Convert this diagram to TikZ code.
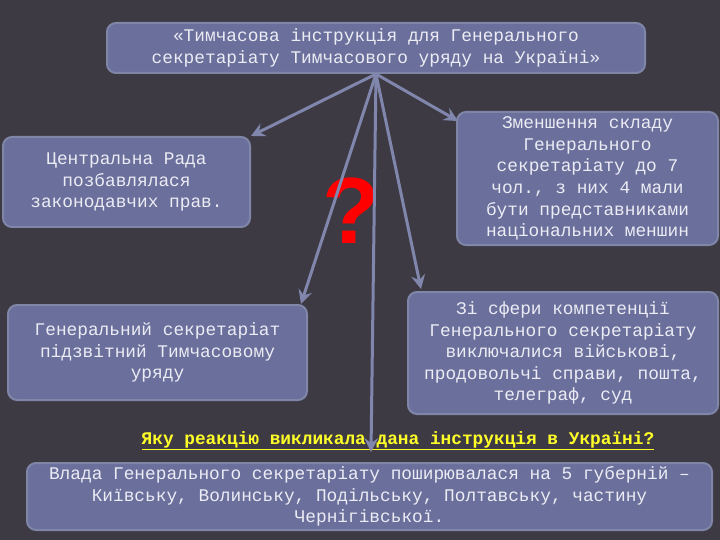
\documentclass[tikz,border=0pt]{standalone}
\usepackage{fontspec}
\setmainfont{Liberation Serif}
\setsansfont{Liberation Sans}
\setmonofont{Liberation Mono}
\usetikzlibrary{calc, arrows.meta}

\definecolor{slidebg}{RGB}{61,58,68}
\definecolor{boxfill}{RGB}{106,111,156}
\definecolor{boxline}{RGB}{128,134,168}
\definecolor{arrowcol}{RGB}{128,134,172}
\definecolor{boxtext}{RGB}{236,236,244}
\definecolor{asktext}{RGB}{255,255,40}

\begin{document}
\begin{tikzpicture}[x=1pt, y=-1pt]
    \tikzstyle{infobox} = [rectangle, rounded corners=9pt, fill=boxfill,
        draw=boxline, line width=2pt, text=boxtext, align=center,
        font=\ttfamily\fontsize{17.8}{21.6}\selectfont, inner sep=0pt]
    \tikzstyle{link} = [line width=3pt, draw=arrowcol,
        -{Stealth[length=14pt, width=14pt, inset=5pt]}]

    \useasboundingbox (0, 0) rectangle (720, 540);
    \fill[slidebg] (0, 0) rectangle (720, 540);

    % Boxes ---------------------------------------------
    \node (top) at (376, 48) [infobox, minimum width=538, minimum height=50]
        {«Тимчасова інструкція для Генерального\\секретаріату Тимчасового уряду на Україні»};
    \node (rada) at (126.5, 182) [infobox, minimum width=247, minimum height=90]
        {Центральна Рада\\позбавлялася\\законодавчих прав.};
    \node (sklad) at (587.5, 178.5) [infobox, minimum width=261, minimum height=133]
        {Зменшення складу\\Генерального\\секретаріату до 7\\чол., з них 4 мали\\бути представниками\\національних меншин};
    \node (pidzvit) at (157.5, 352.5) [infobox, minimum width=299, minimum height=95]
        {Генеральний секретаріат\\підзвітний Тимчасовому\\уряду};
    \node (sfery) at (563, 353) [infobox, minimum width=310, minimum height=122]
        {Зі сфери компетенції\\Генерального секретаріату\\виключалися військові,\\продовольчі справи, пошта,\\телеграф, суд};
    \node (vlada) at (369.5, 496.5) [infobox, minimum width=685, minimum height=67]
        {Влада Генерального секретаріату поширювалася на 5 губерній –\\Київську, Волинську, Подільську, Полтавську, частину\\Чернігівської.};
    % ---------------------------------------------------

    % Question ------------------------------------------
    \node (ask) at (398, 441) [text=asktext,
        font=\ttfamily\bfseries\fontsize{17.8}{21.6}\selectfont]
        {\color{asktext}\underline{Яку реакцію викликала дана інструкція в Україні?}};
    \node (qmark) at (351, 211) [text=red, font=\sffamily\bfseries\fontsize{94}{94}\selectfont] {?};
    \coordinate (asktip) at (371, 452);
    % ---------------------------------------------------

    % Arrows
    \draw [link] (top.south) -- (rada.north east);
    \draw [link] (top.south) -- ($(sklad.north west) + (2, 10)$);
    \draw [link] (top.south) -- ($(pidzvit.north east) + (-7, 0)$);
    \draw [link] (top.south) -- ($(sfery.north west) + (14, -2)$);
    \draw [link] (top.south) -- (asktip);
\end{tikzpicture}
\end{document}
